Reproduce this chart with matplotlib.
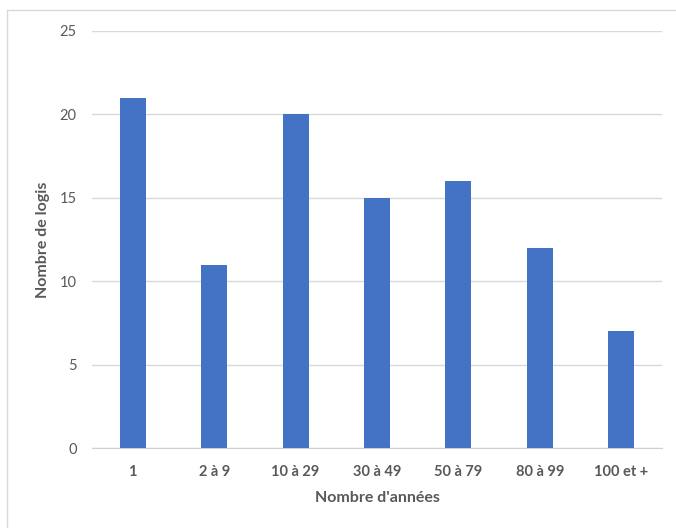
import matplotlib.pyplot as plt
from matplotlib.lines import Line2D

plt.rcParams['font.family'] = ['Lato', 'DejaVu Sans']

# données
categories = ['1', '2 à 9', '10 à 29', '30 à 49', '50 à 79', '80 à 99', '100 et +']
valeurs = [21, 11, 20, 15, 16, 12, 7]
yticks = [0, 5, 10, 15, 20, 25]

W, H = 676, 528
fig = plt.figure(figsize=(W / 100, H / 100), dpi=100)
ax = fig.add_axes([92 / W, 1 - 448 / H, 570 / W, 417 / H])

x = range(len(categories))
ax.bar(x, valeurs, width=0.32, color='#4472C4', zorder=3)

ax.set_xlim(-0.5, len(categories) - 0.5)
ax.set_ylim(0, 25)
ax.set_yticks(yticks)
ax.set_xticks(list(x))
ax.set_xticklabels(categories, fontweight='bold')
ax.grid(axis='y', color='#D9D9D9', linewidth=1, zorder=0)
for s in ['top', 'right', 'left']:
    ax.spines[s].set_visible(False)
ax.spines['bottom'].set_color('#D0D0D0')
ax.tick_params(axis='both', length=0, colors='#595959', labelsize=10.5)
ax.tick_params(axis='x', pad=12)
ax.tick_params(axis='y', pad=11)

ax.set_xlabel("Nombre d'années", fontsize=11.5, fontweight='bold', color='#595959', labelpad=9)
ax.set_ylabel('Nombre de logis', fontsize=11.5, fontweight='bold', color='#595959', labelpad=7)

# bordure du graphique
fig.add_artist(Line2D([7 / W, 7 / W], [0, 1 - 10 / H], color='#D9D9D9', linewidth=1))
fig.add_artist(Line2D([7 / W, 1], [1 - 10 / H, 1 - 10 / H], color='#D9D9D9', linewidth=1))

fig.savefig('out.png', dpi=100)
